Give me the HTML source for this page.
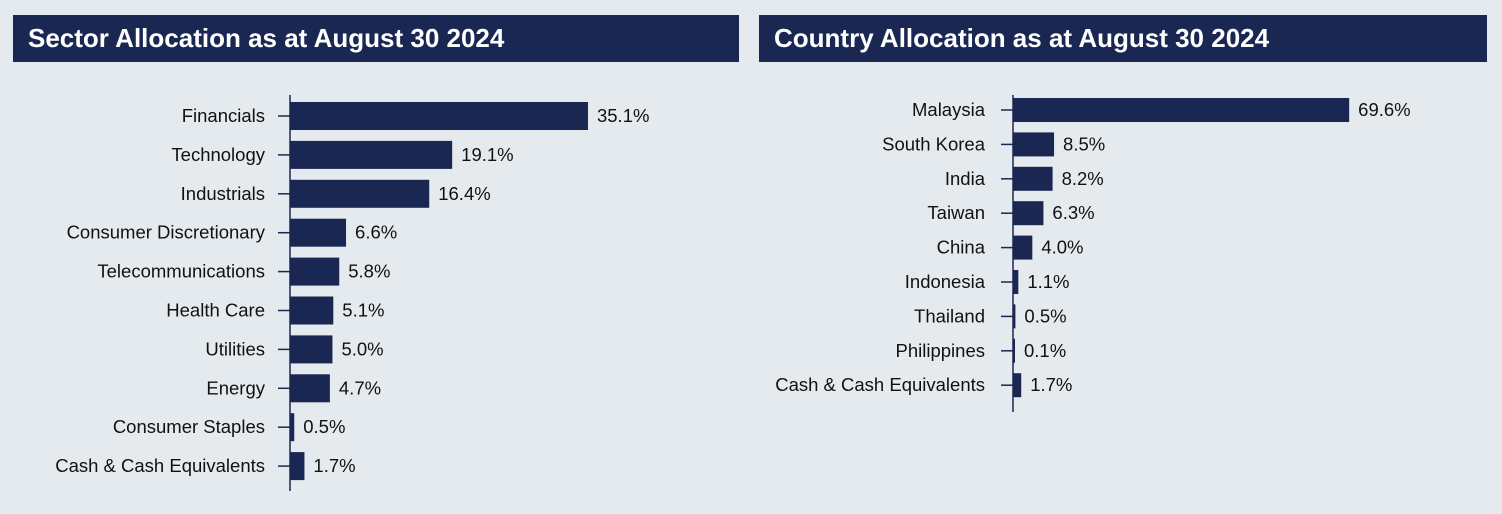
<!DOCTYPE html>
<html><head><meta charset="utf-8"><style>
html,body{margin:0;padding:0;background:#e4eaee;}
body{width:1502px;height:514px;position:relative;overflow:hidden;font-family:"Liberation Sans",sans-serif;}
.hdr{position:absolute;top:15px;height:47px;background:#1b2753;color:#fff;font-weight:bold;font-size:26px;line-height:47px;padding-left:15px;box-sizing:border-box;white-space:nowrap;}
svg{position:absolute;left:0;top:0;}
</style></head><body>
<div class="hdr" style="left:13px;width:726px">Sector Allocation as at August 30 2024</div>
<div class="hdr" style="left:759px;width:728px">Country Allocation as at August 30 2024</div>
<svg id="chart" width="1502" height="514"></svg>
<script>
const sectorCategories=["Financials","Technology","Industrials","Consumer Discretionary","Telecommunications","Health Care","Utilities","Energy","Consumer Staples","Cash & Cash Equivalents"];
const sectorValues=[35.1,19.1,16.4,6.6,5.8,5.1,5.0,4.7,0.5,1.7];
const countryCategories=["Malaysia","South Korea","India","Taiwan","China","Indonesia","Thailand","Philippines","Cash & Cash Equivalents"];
const countryValues=[69.6,8.5,8.2,6.3,4.0,1.1,0.5,0.1,1.7];
const svg=document.getElementById('chart');
const NS='http://www.w3.org/2000/svg';
function mk(t,a){const e=document.createElementNS(NS,t);for(const k in a)e.setAttribute(k,a[k]);svg.appendChild(e);return e;}
function draw(cats,vals,cfg,prefix){
  const x=v=>cfg.x0+v*cfg.scale;
  const y=i=>cfg.y0+i*cfg.step;
  const ax=mk('line',{x1:cfg.x0,x2:cfg.x0,y1:cfg.yTop,y2:cfg.yBot,stroke:'#1b2753','stroke-width':1.5});
  
  
  cats.forEach((c,i)=>{
    const cy=y(i);
    const t=mk('line',{x1:cfg.x0-12,x2:cfg.x0,y1:cy,y2:cy,stroke:'#1b2753','stroke-width':1.5});
    
    
    const l=mk('text',{x:cfg.labelX,y:cy+6,'text-anchor':'end','font-size':18.5,fill:'#111'});
    l.textContent=c;
    
    
    const w=Math.max(vals[i]*cfg.scale,2);
    const b=mk('rect',{x:cfg.x0,y:cy-cfg.bh/2,width:w,height:cfg.bh,fill:'#1b2753'});
    
    
    const v=mk('text',{x:cfg.x0+w+9,y:cy+6,'font-size':18.5,fill:'#111'});
    v.textContent=vals[i].toFixed(1)+'%';
    
    
  });
}
draw(sectorCategories,sectorValues,{x0:290,labelX:265,scale:8.49,y0:116,step:38.9,bh:28,yTop:95,yBot:491},'sector');
draw(countryCategories,countryValues,{x0:1013,labelX:985,scale:4.83,y0:110,step:34.4,bh:24,yTop:95,yBot:412},'country');
</script>
</body></html>
